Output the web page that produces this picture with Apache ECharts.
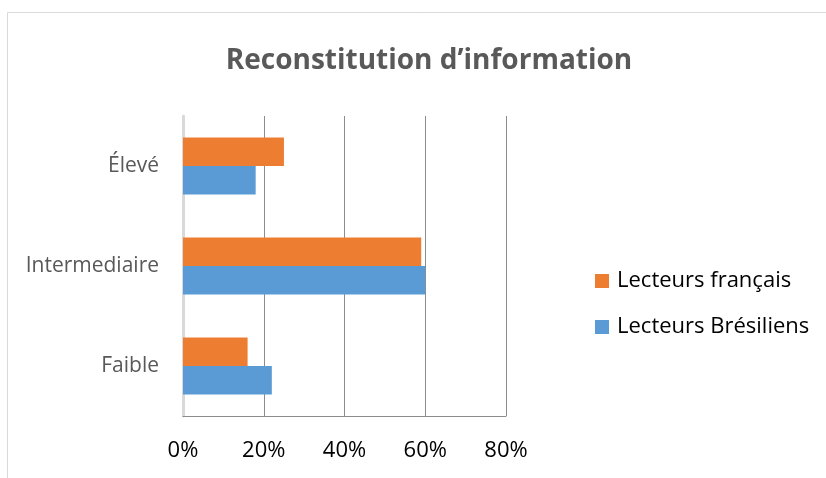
<!DOCTYPE html>
<html>
<head>
<meta charset="utf-8">
<script src="https://cdn.jsdelivr.net/npm/echarts@6/dist/echarts.min.js"></script>
<style>
  html, body { margin: 0; padding: 0; background: #fff; }
  #chart { width: 826px; height: 478px; }
</style>
</head>
<body>
<div id="chart"></div>
<script>
  // niveaux, du bas vers le haut
  const categories = ['Faible', 'Intermediaire', 'Élevé']
  const lecteursFrancais = [16, 59, 25]
  const lecteursBresiliens = [22, 60, 18]
  const xTicks = [0, 20, 40, 60, 80]

  const chart = echarts.init(document.getElementById('chart'))
  const font = '"Open Sans", sans-serif'

  chart.setOption({
    animation: false,
    graphic: [{
      type: 'rect',
      shape: { x: 7.5, y: 12.5, width: 1000, height: 1000 },
      style: { fill: 'none', stroke: '#d9d9d9', lineWidth: 1 },
      silent: true
    }],
    title: {
      text: 'Reconstitution d’information',
      left: 424,
      textAlign: 'center',
      top: 42,
      textStyle: { color: '#595959', fontWeight: 'bold', fontSize: 28, fontFamily: font }
    },
    legend: {
      orient: 'vertical',
      left: 590,
      top: 265,
      itemWidth: 14,
      itemHeight: 14,
      itemGap: 24,
      icon: 'rect',
      textStyle: { color: '#000', fontSize: 22, fontFamily: font, padding: [0, 0, 0, 3] },
      data: ['Lecteurs français', 'Lecteurs Brésiliens']
    },
    grid: { left: 183, right: 320, top: 116, bottom: 62, containLabel: false },
    xAxis: {
      type: 'value',
      min: xTicks[0],
      max: xTicks[xTicks.length - 1],
      interval: 20,
      axisLine: { show: true, lineStyle: { color: '#8c8c8c', width: 1 } },
      axisTick: { show: false },
      splitLine: { show: true, lineStyle: { color: '#8c8c8c', width: 1 } },
      axisLabel: {
        formatter: '{value}%',
        margin: 24,
        color: '#000',
        fontSize: 22,
        fontFamily: font
      }
    },
    yAxis: {
      type: 'category',
      data: categories,
      axisLine: { show: true, lineStyle: { color: '#d9d9d9', width: 3 } },
      axisTick: { show: false },
      axisLabel: { margin: 24, color: '#595959', fontSize: 21, fontFamily: font }
    },
    series: [{
      name: 'Lecteurs français',
      type: 'bar',
      data: lecteursFrancais,
      barGap: '0%',
      barCategoryGap: '43%',
      itemStyle: { color: '#ed7d31' },
      z: 3
    }, {
      name: 'Lecteurs Brésiliens',
      type: 'bar',
      data: lecteursBresiliens,
      barGap: '0%',
      barCategoryGap: '43%',
      itemStyle: { color: '#5b9bd5' },
      z: 3
    }]
  })
</script>
</body>
</html>
